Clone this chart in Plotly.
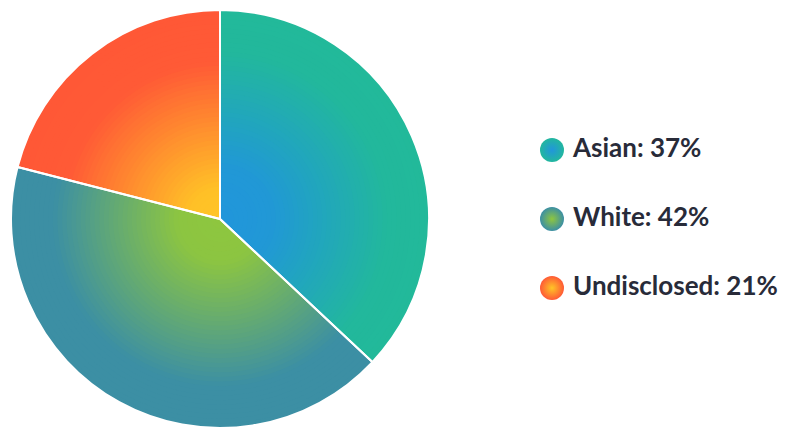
import plotly.graph_objects as go

# ---- data ----
categories = ["Asian", "White", "Undisclosed"]
shares = [37, 42, 21]

# ---- style ----
W, H = 786, 427
OFF = 8                              # page body margin of the exported html
CX, CY, R = 220 - OFF, 219 - OFF, 209  # pie centre / radius in figure px
N_LAYERS = 45
gradients = {
    "Asian": [(0.0, "#2196db"), (0.25, "#2198d6"), (0.8, "#22b89c"), (1.0, "#22b99a")],
    "White": [(0.0, "#8ec63f"), (0.2, "#8cc541"), (0.8, "#3c8fa4"), (1.0, "#3c8fa4")],
    "Undisclosed": [(0.0, "#ffc526"), (0.15, "#ffc027"), (0.75, "#ff5a36"), (1.0, "#ff5836")],
}
legend_edge = {"Asian": "#22b79e", "White": "#3c8fa4", "Undisclosed": "#ff5a36"}
legend_centre = {"Asian": "#2196db", "White": "#8ec63f", "Undisclosed": "#ffc526"}
LEG_X_MARK, LEG_X_TEXT = 552 - OFF, 573 - OFF
LEG_Y0, LEG_DY = 150 - OFF, 69


def hex2rgb(h):
    h = h.lstrip("#")
    return tuple(int(h[i:i + 2], 16) for i in (0, 2, 4))


def interp(stops, s):
    for (s0, c0), (s1, c1) in zip(stops[:-1], stops[1:]):
        if s0 <= s <= s1:
            t = 0 if s1 == s0 else (s - s0) / (s1 - s0)
            a, b = hex2rgb(c0), hex2rgb(c1)
            return "rgb(%d,%d,%d)" % tuple(round(a[i] + (b[i] - a[i]) * t) for i in range(3))
    return stops[-1][1]


fig = go.Figure()

cxp, cyp = CX / W, 1 - CY / H
rx, ry = R / W, R / H


def domain(s):
    return dict(x=[cxp - s * rx, cxp + s * rx], y=[max(0, cyp - s * ry), min(1, cyp + s * ry)])


for k in range(N_LAYERS):
    s_outer = 1 - k / N_LAYERS
    s_mid = s_outer - 0.5 / N_LAYERS
    fig.add_trace(go.Pie(
        labels=categories, values=shares, sort=False, direction="clockwise", rotation=0,
        domain=domain(s_outer),
        marker=dict(colors=[interp(gradients[c], s_mid) for c in categories], line=dict(width=0)),
        textinfo="none", hoverinfo="skip", showlegend=False,
    ))

# white separators on top
fig.add_trace(go.Pie(
    labels=categories, values=shares, sort=False, direction="clockwise", rotation=0,
    domain=domain(1.0),
    marker=dict(colors=["rgba(0,0,0,0)"] * 3, line=dict(color="white", width=2)),
    textinfo="none", hoverinfo="label+percent", showlegend=False,
))

# custom legend with radial-gradient circles
legend_text = [f"{c}: {v}%" for c, v in zip(categories, shares)]
fig.add_trace(go.Scatter(
    x=[LEG_X_MARK] * len(categories), y=categories, mode="markers",
    marker=dict(size=24, color=[legend_edge[c] for c in categories],
                gradient=dict(type="radial", color=[legend_centre[c] for c in categories]),
                line=dict(width=0)),
    hoverinfo="skip", showlegend=False,
))
fig.add_trace(go.Scatter(
    x=[LEG_X_TEXT] * len(categories), y=categories, mode="text", text=legend_text,
    textposition="middle right",
    textfont=dict(family="Lato", size=26, color="#282b39", weight="bold"),
    hoverinfo="skip", showlegend=False,
))

fig.update_layout(
    width=W, height=H, margin=dict(l=0, r=0, t=0, b=0),
    paper_bgcolor="white", plot_bgcolor="white",
    xaxis=dict(range=[0, W], visible=False, fixedrange=True),
    yaxis=dict(type="category", categoryorder="array", categoryarray=categories,
               range=[(H - LEG_Y0) / LEG_DY, -LEG_Y0 / LEG_DY], visible=False, fixedrange=True),
    showlegend=False,
)

fig.write_html("out.html")
